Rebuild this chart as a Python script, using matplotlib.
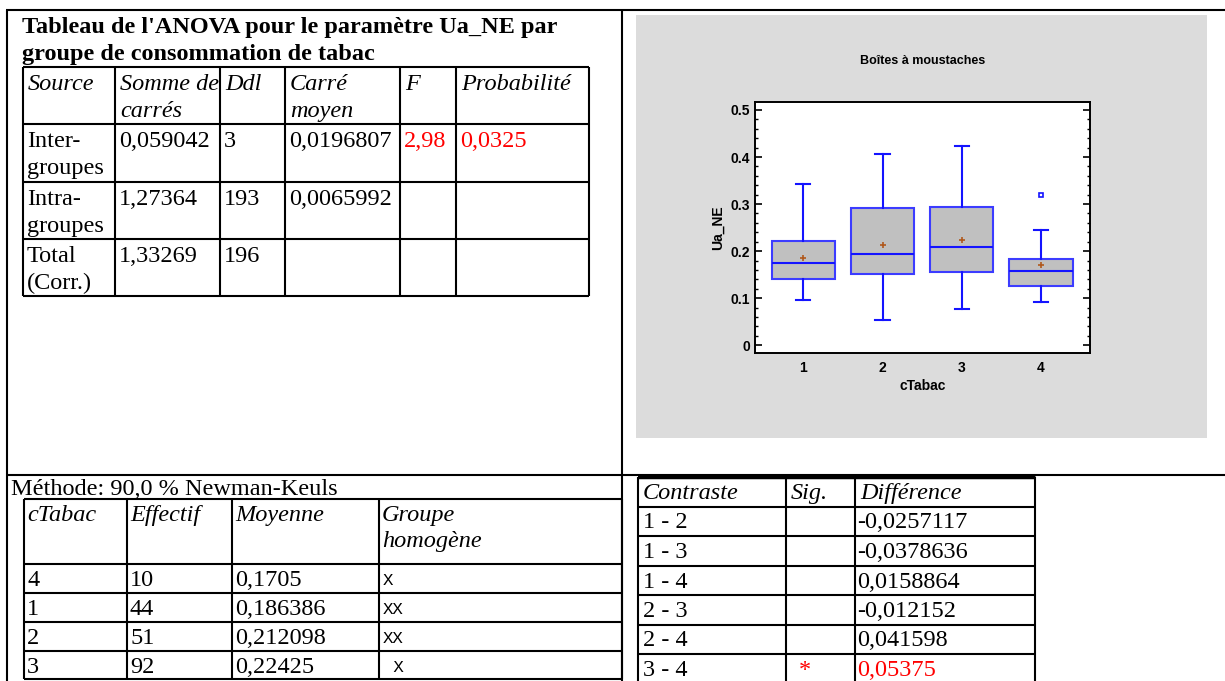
import matplotlib.pyplot as plt
from matplotlib.patches import Rectangle

# ---- données ----
anova_title = ["Tableau de l'ANOVA pour le paramètre Ua_NE par",
               "groupe de consommation de tabac"]
anova_header = ["Source", "Somme de\ncarrés", "Ddl", "Carré\nmoyen", "F", "Probabilité"]
anova_rows = [
    ["Inter-\ngroupes", "0,059042", "3", "0,0196807", "2,98", "0,0325"],
    ["Intra-\ngroupes", "1,27364", "193", "0,0065992", "", ""],
    ["Total\n(Corr.)", "1,33269", "196", "", "", ""],
]
anova_red = [(0, 4), (0, 5)]

nk_method = "Méthode: 90,0 % Newman-Keuls"
nk_header = ["cTabac", "Effectif", "Moyenne", "Groupe\nhomogène"]
nk_groups = ["4", "1", "2", "3"]
nk_counts = ["10", "44", "51", "92"]
nk_means = ["0,1705", "0,186386", "0,212098", "0,22425"]
nk_homog = ["X", "XX", "XX", " X"]

ct_header = ["Contraste", "Sig.", "Différence"]
ct_pairs = ["1 - 2", "1 - 3", "1 - 4", "2 - 3", "2 - 4", "3 - 4"]
ct_sig = ["", "", "", "", "", "*"]
ct_diff = ["-0,0257117", "-0,0378636", "0,0158864", "-0,012152", "0,041598", "0,05375"]

# boîtes à moustaches
box_labels = ["1", "2", "3", "4"]
whislo = [0.097, 0.054, 0.0765, 0.092]
q1 = [0.140, 0.151, 0.155, 0.126]
med = [0.1756, 0.194, 0.2096, 0.158]
q3 = [0.222, 0.2925, 0.2946, 0.184]
whishi = [0.342, 0.407, 0.423, 0.245]
means = [0.186386, 0.212098, 0.22425, 0.1705]
fliers = [[], [], [], [0.320]]
ytick_vals = [0, 0.1, 0.2, 0.3, 0.4, 0.5]
ytick_labels = ["0", "0.1", "0.2", "0.3", "0.4", "0.5"]

W, H = 1225, 681
serif = ['Liberation Serif', 'DejaVu Serif']
narrow = ['Liberation Sans Narrow', 'Liberation Sans', 'DejaVu Sans']
FS = 17.5
LW = 1.5

fig = plt.figure(figsize=(W / 100, H / 100), dpi=100)
bg = fig.add_axes([0, 0, 1, 1])
bg.set_xlim(0, W)
bg.set_ylim(H, 0)
bg.axis('off')


def line(x0, y0, x1, y1, lw=LW):
    bg.plot([x0, x1], [y0, y1], color='black', lw=lw, solid_capstyle='butt')


def grid(cols, rows, lw=LW):
    for x in cols:
        line(x, rows[0], x, rows[-1], lw)
    for y in rows:
        line(cols[0], y, cols[-1], y, lw)


def cell(x, y, s, style='normal', color='black', family=serif, size=FS, step=27):
    for i, part in enumerate(s.split('\n')):
        bg.text(x, y + i * step, part, fontsize=size, family=family,
                style=style, color=color, va='baseline', ha='left')


# cadre général
line(6, 10, W, 10)
line(7, 10, 7, H)
line(622, 10, 622, H)
line(7, 475, W, 475)

# panneau gris du graphique
bg.add_patch(Rectangle((636, 15), 571, 423, facecolor='#dcdcdc', edgecolor='none'))

# tableau ANOVA
for i, t in enumerate(anova_title):
    bg.text(22, 33 + i * 27, t, fontsize=FS, family=serif, weight='bold', va='baseline')
a_cols = [23, 115, 220, 285, 400, 456, 589]
a_rows = [67, 124, 182, 239, 296]
grid(a_cols, a_rows)
for j, h in enumerate(anova_header):
    cell(a_cols[j] + 5, a_rows[0] + 23, h, style='italic')
for i, r in enumerate(anova_rows):
    for j, v in enumerate(r):
        col = 'red' if (i, j) in anova_red else 'black'
        cell(a_cols[j] + 4, a_rows[i + 1] + 23, v, color=col)

# tableau Newman-Keuls
bg.text(11, 495, nk_method, fontsize=FS, family=serif, va='baseline')
n_cols = [24, 127, 232, 379, 622]
n_rows = [499, 564, 593, 622, 651, 679]
grid(n_cols, n_rows)
for j, h in enumerate(nk_header):
    cell(n_cols[j] + 3, n_rows[0] + 22, h, style='italic', step=26)
for i in range(len(nk_groups)):
    y = n_rows[i + 1] + 22
    cell(n_cols[0] + 3, y, nk_groups[i])
    cell(n_cols[1] + 3, y, nk_counts[i])
    cell(n_cols[2] + 3, y, nk_means[i])
    cell(n_cols[3] + 4, y - 1, nk_homog[i], family=['Liberation Mono', 'DejaVu Sans Mono'],
         size=12.5)

# tableau des contrastes
c_cols = [638, 786, 855, 1035]
c_rows = [477, 506.5, 536, 565.5, 595, 624.5, 654, 683.5]
grid(c_cols, c_rows)
line(638, 477, 1035, 477, lw=2.5)
for j, h in enumerate(ct_header):
    cell(c_cols[j] + 5, c_rows[0] + 22, h, style='italic')
for i in range(len(ct_pairs)):
    y = c_rows[i + 1] + 22
    red = ct_sig[i] == '*'
    cell(c_cols[0] + 5, y, ct_pairs[i])
    cell(c_cols[1] + 13, y, ct_sig[i], color='red')
    cell(c_cols[2] + 2, y, ct_diff[i], color='red' if red else 'black')

# graphique
ax = fig.add_axes([755 / W, 1 - 352.7 / H, 335 / W, 250.7 / H])
ax.set_facecolor('white')
stats = []
for k in range(len(box_labels)):
    stats.append(dict(label=box_labels[k], whislo=whislo[k], q1=q1[k], med=med[k],
                      q3=q3[k], whishi=whishi[k], mean=means[k], fliers=fliers[k]))
blue = '#1414ff'
ax.bxp(stats, positions=[1, 2, 3, 4], widths=0.8, patch_artist=True, showmeans=True,
       boxprops=dict(facecolor='#c0c0c0', edgecolor='#3c3cff', lw=1.5),
       medianprops=dict(color=blue, lw=1.5),
       whiskerprops=dict(color=blue, lw=1.5),
       capprops=dict(color=blue, lw=1.5),
       capwidths=0.18,
       meanprops=dict(marker='+', markeredgecolor='#b0581c', markersize=4.5, mew=1.2),
       flierprops=dict(marker='s', markerfacecolor='none', markeredgecolor=blue,
                       markersize=3.5, mew=1.2))
ax.set_xlim(0.39, 4.62)
ax.set_ylim(-0.016, 0.517)
ax.set_yticks(ytick_vals)
ax.set_yticklabels(ytick_labels)
ax.set_yticks([v / 100 for v in range(0, 52, 2)], minor=True)
ax.tick_params(axis='y', which='both', direction='in', left=True, right=True)
ax.tick_params(axis='y', which='major', length=5, width=1.2, pad=3.5)
ax.tick_params(axis='y', which='minor', length=2.5, width=1)
ax.tick_params(axis='x', length=0, pad=6)
for lab in ax.get_xticklabels() + ax.get_yticklabels():
    lab.set_family(narrow)
    lab.set_weight('bold')
    lab.set_fontsize(10)
for sp in ax.spines.values():
    sp.set_linewidth(1.4)
ax.set_title("Boîtes à moustaches", family=narrow, weight='bold', fontsize=9, pad=27)
ax.set_xlabel("cTabac", family=narrow, weight='bold', fontsize=10, labelpad=3)
ax.set_ylabel("Ua_NE", family=narrow, weight='bold', fontsize=10, labelpad=4)

fig.savefig('out.png', dpi=100)
